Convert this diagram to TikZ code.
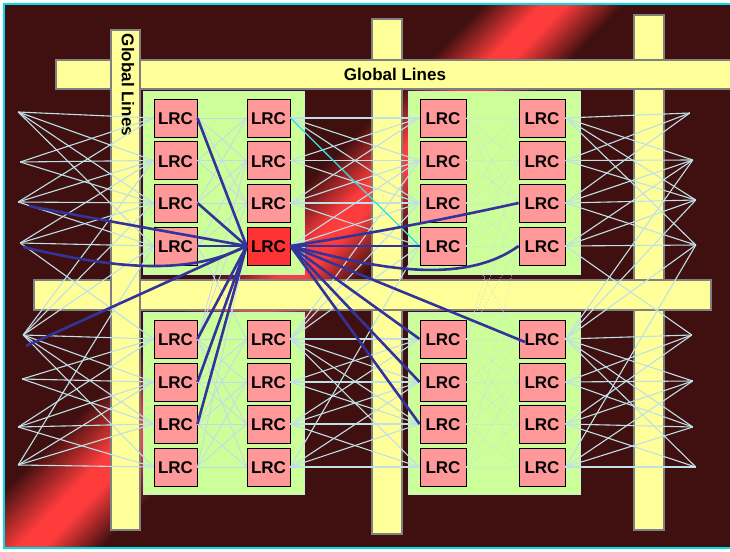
\documentclass[tikz,border=0pt]{standalone}
\usepackage{fontspec}
\setmainfont{Liberation Sans}
\definecolor{bgdark}{HTML}{401010}
\definecolor{bandred}{HTML}{FF3C3C}
\definecolor{framecyan}{HTML}{00E0E6}
\definecolor{barfill}{HTML}{FFFF99}
\definecolor{barline}{HTML}{808080}
\definecolor{clusterfill}{HTML}{CCFF99}
\definecolor{clusterline}{HTML}{C8F0D0}
\definecolor{lrcfill}{HTML}{FF9999}
\definecolor{lrchot}{HTML}{FF3333}
\definecolor{wirecol}{HTML}{BFE0E6}
\definecolor{dotcol}{HTML}{C4D8EC}
\definecolor{routecol}{HTML}{333399}
\tikzset{
  globalbar/.style={draw=barline, fill=barfill, line width=1.6pt},
  cluster/.style={draw=clusterline, fill=clusterfill, line width=0.8pt},
  lrc/.style={draw=black, fill=lrcfill, line width=0.9pt, inner sep=0pt, minimum height=38pt,
    text height=13pt, text depth=0pt, font=\fontsize{17}{20}\selectfont\bfseries},
  lrc2-4/.style={fill=lrchot},
  barlabel/.style={font=\fontsize{17}{20}\selectfont\bfseries, inner sep=0pt},
  stub/.style={inner sep=0pt, minimum size=0pt},
  wire/.style={draw=wirecol, line width=1.1pt},
  innerwire/.style={draw=dotcol, line width=0.8pt},
  dotwire/.style={draw=dotcol, line width=0.8pt, dotted},
  signalwire/.style={draw=framecyan, line width=0.8pt},
  route/.style={draw=routecol, line width=2.6pt},
}
\begin{document}
\begin{tikzpicture}[x=1pt, y=-1pt]
  \useasboundingbox (0,0) rectangle (730,551);
  \clip (0,0) rectangle (730,551);
  % background with the diagonal band
  \fill[bgdark] (4,4) rectangle (735,548);
  \begin{scope}
    \clip (4,4) rectangle (735,548);
    \foreach \w in {72,69,...,0} {
      \pgfmathtruncatemacro{\pc}{min(100,100*(72-\w)/58)}
      \fill[bandred!\pc!bgdark] ({555-\w},4) -- ({555+\w},4) -- ({32+\w},548) -- ({32-1.2*\w},548) -- cycle;
    }
  \end{scope}
  \draw[framecyan, line width=1.6pt] (4,4) rectangle (735,548);
  % global lines
  \draw[globalbar] (372,19) rectangle (402,534);
  \draw[globalbar] (634,15) rectangle (664,530);
  \draw[globalbar] (56,60) rectangle (735,89);
  \draw[globalbar] (34,280) rectangle (711,310);
  \draw[globalbar] (111,30) rectangle (140,530);
  \node[barlabel] (toplabel) at (395,74) {Global Lines};
  \node[barlabel, rotate=-90] (sidelabel) at (128,85) {Global Lines};
  % clusters
  \draw[cluster] (143,91) rectangle (304,274);
  \draw[cluster] (408,91) rectangle (580,274);
  \draw[cluster] (143,312) rectangle (304,494);
  \draw[cluster] (408,312) rectangle (580,494);
  % LRC boxes
  \foreach \col/\cx/\bw in {1/175.5/43,2/268.5/43,3/443/46,4/542/46} {
    \foreach \row/\cy in {1/118,2/160.5,3/203,4/246,5/339,6/382,7/424,8/467} {
      \node[lrc, minimum width=\bw pt, lrc\col-\row/.try] (c\col-\row) at (\cx,\cy) {LRC};
    }
  }
  % free ends of the wires, left and right
  \foreach \row/\x/\y in {1/18/112,2/20/162,3/18/202,4/20/243,5/23/335,6/22/379,7/18/427,8/18/465} {
    \node[stub] (c0-\row) at (\x,\y) {};
  }
  \foreach \row/\x/\y in {1/690/113,2/693/160,3/696/200,4/696/245,5/692/335,6/693/381,7/693/427,8/696/467} {
    \node[stub] (c5-\row) at (\x,\y) {};
  }
  % crossbars between neighbouring columns
  \foreach \i/\j/\sty in {0/1/wire,1/2/innerwire,2/3/wire,3/4/dotwire,4/5/wire} {
    \foreach \s in {0,4} {
      \foreach \r/\q in {1/1,1/2,1/3,1/4,2/1,2/2,2/3,3/1,3/2,3/3,3/4,4/2,4/3,4/4} {
        \pgfmathtruncatemacro{\ra}{\r+\s}
        \pgfmathtruncatemacro{\qa}{\q+\s}
        \draw[\sty] (c\i-\ra.east) -- (c\j-\qa.west);
      }
    }
    \foreach \from/\to in {4/5,5/2,5/3,5/4,8/4} {
      \draw[\sty] (c\i-\from.east) -- (c\j-\to.west);
    }
  }
  \draw[signalwire] (c2-1.east) -- (c3-4.west);
  % routes out of the red LRC
  \coordinate (routea) at (29,206);
  \coordinate (routeb) at (23,247);
  \coordinate (routec) at (26,346);
  \coordinate (routed) at (525,342);
  \foreach \e in {c1-1,c1-3,c1-4,c1-5,c1-6,c1-7} {
    \draw[route] (c2-4.west) -- (\e.east);
  }
  \draw[route] (c2-4.west) .. controls (170,232) and (90,218) .. (routea);
  \draw[route] (c2-4.west) .. controls (190,275) and (120,270) .. (routeb);
  \draw[route] (c2-4.west) -- (routec);
  \foreach \e in {c3-4,c3-5,c3-6,c3-7} {
    \draw[route] (c2-4.east) -- (\e.west);
  }
  \draw[route] (c2-4.east) -- (routed);
  \draw[route] (c2-4.east) .. controls (380,232) and (450,218) .. (c4-3.west);
  \draw[route] (c2-4.east) .. controls (350,260) and (455,292) .. (c4-4.west);
\end{tikzpicture}
\end{document}
